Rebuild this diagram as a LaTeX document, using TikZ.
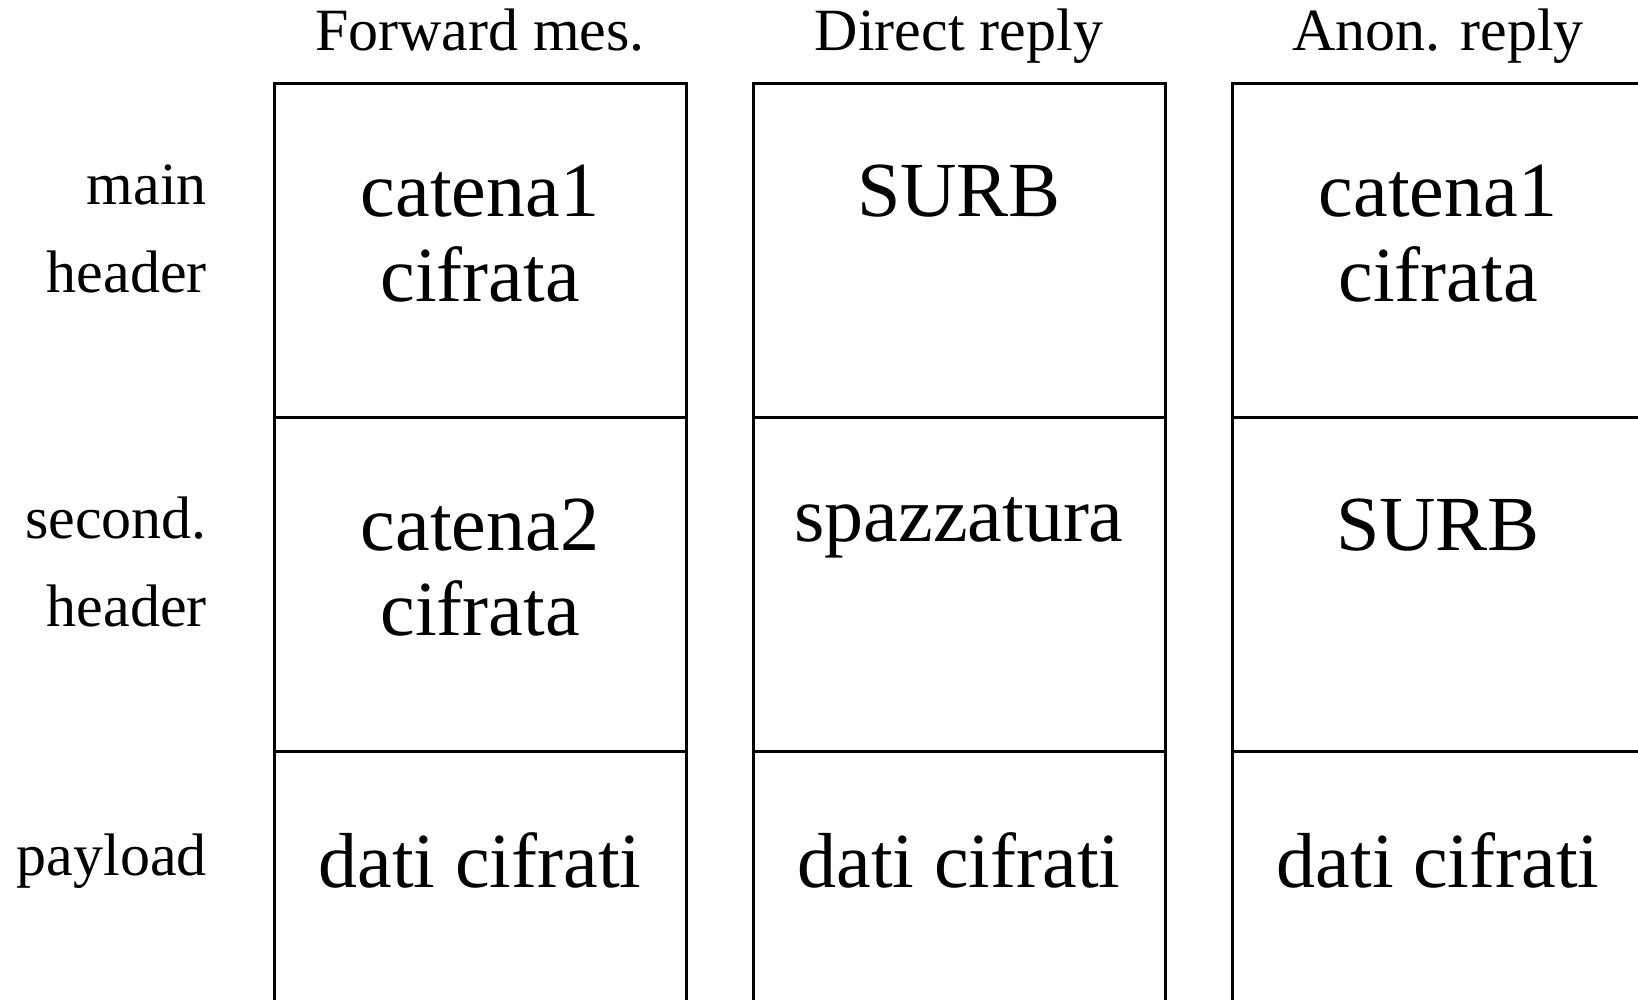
\documentclass[tikz,border=0pt]{standalone}
\usepackage{fontspec}
\setmainfont{Liberation Serif}
\usetikzlibrary{positioning}

\begin{document}
\begin{tikzpicture}[
        x=1pt, y=-1pt,
        %
        % Cells of the three message formats
        cell/.style={draw, line width=3pt, minimum width=412pt,
            minimum height=334pt, inner sep=0pt, outer sep=0pt},
        bigtext/.style={font=\fontsize{78pt}{82pt}\selectfont,
            inner sep=0pt, anchor=base},
        smalltext/.style={font=\fontsize{60pt}{72pt}\selectfont,
            inner sep=0pt}
    ]

        % Define the gap between the columns
        \def\gap{67pt}

        % Define the baseline offsets inside a cell
        \def\firstline{133pt}
        \def\linestep{85pt}

        % Page frame, the picture is cut at the right and bottom
        \path[use as bounding box, clip] (0,0) rectangle (1638,999);

        % Draw the first column
        \node[cell, anchor=north] (fwdmain) at (480,83) {};
        \node[cell, below=0pt of fwdmain] (fwdsecond) {};
        \node[cell, below=0pt of fwdsecond] (fwdpay) {};

        % Draw the second column
        \node[cell, right=\gap of fwdmain] (dirmain) {};
        \node[cell, below=0pt of dirmain] (dirsecond) {};
        \node[cell, below=0pt of dirsecond] (dirpay) {};

        % Draw the third column
        \node[cell, right=\gap of dirmain] (anonmain) {};
        \node[cell, below=0pt of anonmain] (anonsecond) {};
        \node[cell, below=0pt of anonsecond] (anonpay) {};

        % Column titles
        \node[smalltext, anchor=base] (fwdtitle)
            at ([yshift=33pt]fwdmain.north) {Forward mes.};
        \node[smalltext, anchor=base] (dirtitle)
            at ([yshift=33pt]dirmain.north) {Direct reply};
        \node[smalltext, anchor=base] (anontitle)
            at ([yshift=33pt]anonmain.north) {Anon. reply};

        % Row labels
        \node[smalltext, anchor=base east] (mainlbl)
            at ([xshift=-\gap, yshift=-121pt]fwdmain.north west) {main};
        \node[smalltext, anchor=base east] (mainlblb)
            at ([yshift=-88pt]mainlbl.base east) {header};
        \node[smalltext, anchor=base east] (secondlbl)
            at ([xshift=-\gap, yshift=-121pt]fwdsecond.north west) {second.};
        \node[smalltext, anchor=base east] (secondlblb)
            at ([yshift=-88pt]secondlbl.base east) {header};
        \node[smalltext, anchor=base east] (paylbl)
            at ([xshift=-\gap, yshift=-124pt]fwdpay.north west) {payload};

        % Forward message contents
        \node[bigtext] (fwdmaintxt)
            at ([yshift=-\firstline]fwdmain.north) {catena1};
        \node[bigtext] (fwdmaintxtb)
            at ([yshift=-\linestep]fwdmaintxt.base) {cifrata};
        \node[bigtext] (fwdsecondtxt)
            at ([yshift=-\firstline]fwdsecond.north) {catena2};
        \node[bigtext] (fwdsecondtxtb)
            at ([yshift=-\linestep]fwdsecondtxt.base) {cifrata};
        \node[bigtext] (fwdpaytxt)
            at ([yshift=-136pt]fwdpay.north) {dati cifrati};

        % Direct reply contents
        \node[bigtext] (dirmaintxt)
            at ([yshift=-\firstline]dirmain.north) {SURB};
        \node[bigtext] (dirsecondtxt)
            at ([yshift=-124pt]dirsecond.north) {spazzatura};
        \node[bigtext] (dirpaytxt)
            at ([yshift=-136pt]dirpay.north) {dati cifrati};

        % Anonymous reply contents
        \node[bigtext] (anonmaintxt)
            at ([yshift=-\firstline]anonmain.north) {catena1};
        \node[bigtext] (anonmaintxtb)
            at ([yshift=-\linestep]anonmaintxt.base) {cifrata};
        \node[bigtext] (anonsecondtxt)
            at ([yshift=-\firstline]anonsecond.north) {SURB};
        \node[bigtext] (anonpaytxt)
            at ([yshift=-136pt]anonpay.north) {dati cifrati};

    \end{tikzpicture}
\end{document}
